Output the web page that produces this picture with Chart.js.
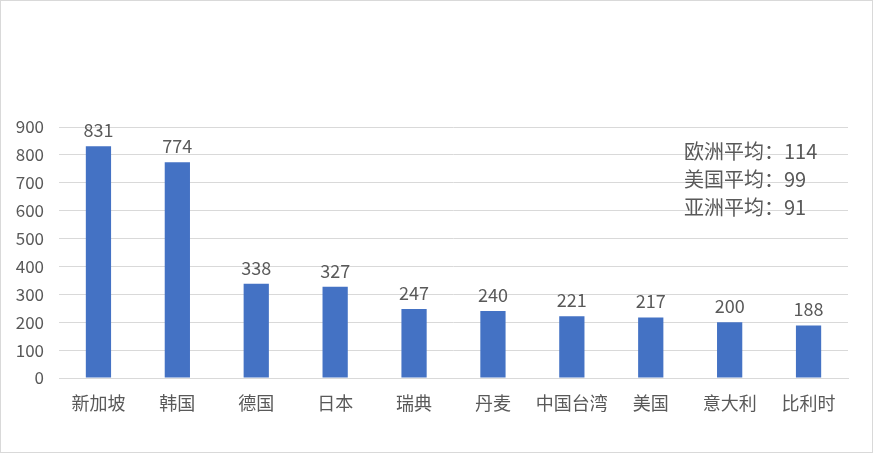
<!DOCTYPE html>
<html>
<head>
<meta charset="utf-8">
<script src="https://cdn.jsdelivr.net/npm/chart.js@4.4.1/dist/chart.umd.min.js"></script>
<style>
    html, body { margin: 0; padding: 0; background: #fff; }
    .wrap { width: 873px; height: 453px; position: relative; }
</style>
</head>
<body>
<div class="wrap"><canvas id="myChart"></canvas></div>
<script>
// 数据
const categories = ['新加坡', '韩国', '德国', '日本', '瑞典', '丹麦', '中国台湾', '美国', '意大利', '比利时'];
const values = [831, 774, 338, 327, 247, 240, 221, 217, 200, 188];
const yTicks = [0, 100, 200, 300, 400, 500, 600, 700, 800, 900];
const notes = ['欧洲平均：114', '美国平均：99', '亚洲平均：91'];

const FONT = '"Noto Sans CJK SC", "Noto Sans", sans-serif';
const GREY = '#595959';

// 柱顶数值 + 右上角注释 + 外框
const extras = {
    id: 'extras',
    beforeDraw(chart) {
        const c = chart.ctx;
        c.save();
        c.fillStyle = '#fff';
        c.fillRect(0, 0, chart.width, chart.height);
        c.restore();
    },
    afterDraw(chart) {
        const c = chart.ctx;
        const meta = chart.getDatasetMeta(0);
        c.save();
        c.fillStyle = GREY;
        c.font = '18px ' + FONT;
        c.textAlign = 'center';
        c.textBaseline = 'bottom';
        meta.data.forEach((bar, i) => {
            c.fillText(values[i], bar.x, bar.y - 7);
        });
        c.font = '20px ' + FONT;
        c.textAlign = 'left';
        c.textBaseline = 'middle';
        const area = chart.chartArea;
        notes.forEach((t, i) => {
            c.fillText(t, area.right - 164, area.top + 24 + i * 28);
        });
        c.strokeStyle = '#d9d9d9';
        c.lineWidth = 1;
        c.strokeRect(0.5, 0.5, chart.width - 1, chart.height - 1);
        c.restore();
    }
};

const ctx = document.getElementById('myChart').getContext('2d');
const myChart = new Chart(ctx, {
    type: 'bar',
    data: {
        labels: categories,
        datasets: [{
            data: values,
            backgroundColor: '#4472C4',
            barPercentage: 0.64,
            categoryPercentage: 0.5
        }]
    },
    options: {
        responsive: true,
        maintainAspectRatio: false,
        animation: false,
        layout: { padding: { top: 127, right: 25, bottom: 0, left: 0 } },
        plugins: {
            legend: { display: false },
            tooltip: { enabled: false }
        },
        scales: {
            x: {
                grid: { display: false },
                border: { color: '#d9d9d9' },
                ticks: { color: GREY, font: { family: FONT, size: 18 }, padding: 6, maxRotation: 0 },
                afterFit(scale) { scale.height = 75; }
            },
            y: {
                min: 0,
                max: 900,
                afterBuildTicks(scale) { scale.ticks = yTicks.map(v => ({ value: v })); },
                grid: { color: '#d9d9d9', drawTicks: false },
                border: { display: false },
                ticks: { color: GREY, font: { family: FONT, size: 17 }, padding: 15 },
                afterFit(scale) { scale.width = 59; }
            }
        }
    },
    plugins: [extras]
});
</script>
</body>
</html>
